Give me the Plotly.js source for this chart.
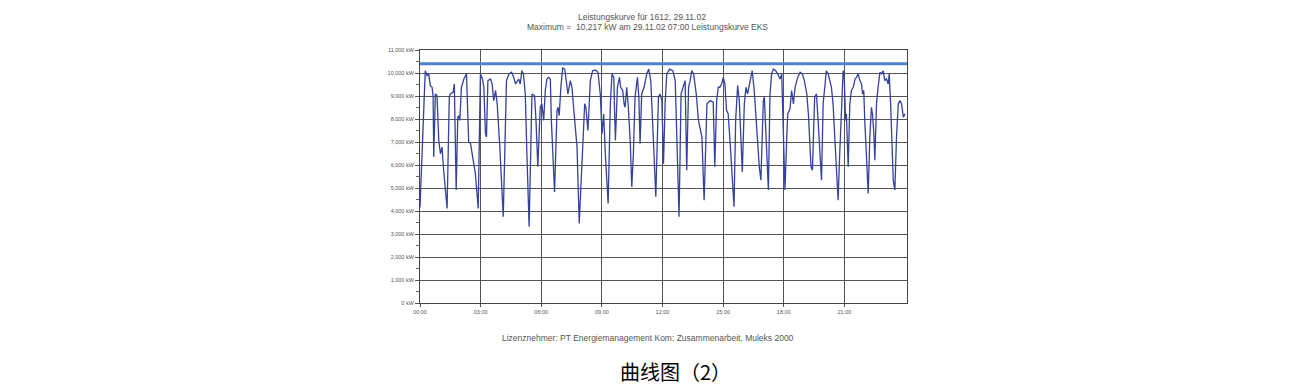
<!DOCTYPE html>
<html>
<head>
<meta charset="utf-8">
<script src="https://cdn.plot.ly/plotly-3.0.1.min.js"></script>
<style>
html,body{margin:0;padding:0;background:#fff;}
#chart{width:1300px;height:391px;}
</style>
</head>
<body>
<div id="chart"></div>
<script>
// Time of day in hours
var hours = [0,0.26,0.35,0.43,0.51,0.6,0.65,0.68,0.76,0.84,0.93,1.01,1.09,1.17,1.34,1.45,1.5,1.64,1.7,1.79,1.87,1.92,1.97,2.05,2.17,2.3,2.41,2.5,2.66,2.74,2.88,2.99,3.09,3.16,3.24,3.29,3.36,3.49,3.57,3.65,3.74,3.82,3.95,4.12,4.28,4.4,4.53,4.64,4.73,4.88,4.96,5.04,5.12,5.21,5.29,5.4,5.54,5.67,5.74,5.83,5.95,6.03,6.12,6.2,6.28,6.36,6.45,6.5,6.66,6.78,6.83,6.89,6.97,7.06,7.16,7.24,7.32,7.44,7.52,7.6,7.72,7.77,7.88,8.02,8.15,8.21,8.31,8.43,8.54,8.68,8.81,8.92,9.01,9.09,9.17,9.31,9.42,9.5,9.59,9.62,9.67,9.77,9.87,9.93,10.03,10.1,10.15,10.23,10.31,10.4,10.48,10.56,10.64,10.76,10.83,10.89,10.97,11.09,11.22,11.32,11.42,11.55,11.67,11.8,11.88,11.97,12.05,12.13,12.21,12.35,12.51,12.63,12.71,12.82,12.92,13.04,13.12,13.2,13.29,13.37,13.45,13.54,13.67,13.78,13.87,13.95,14.06,14.2,14.28,14.36,14.51,14.59,14.68,14.76,14.84,14.92,15.01,15.09,15.17,15.25,15.34,15.42,15.54,15.62,15.72,15.8,15.88,15.95,16.05,16.13,16.21,16.33,16.44,16.54,16.63,16.71,16.79,16.87,16.99,17.04,17.12,17.24,17.32,17.4,17.49,17.6,17.7,17.82,17.9,17.98,18.06,18.15,18.2,18.31,18.39,18.48,18.56,18.69,18.81,18.92,19.02,19.14,19.22,19.35,19.42,19.53,19.62,19.7,19.78,19.87,19.95,20.03,20.11,20.2,20.28,20.36,20.44,20.53,20.61,20.69,20.77,20.86,20.94,20.99,21.06,21.1,21.19,21.27,21.35,21.44,21.53,21.6,21.68,21.77,21.85,21.9,21.96,22.01,22.1,22.18,22.26,22.34,22.39,22.46,22.51,22.59,22.67,22.76,22.84,22.92,23.0,23.09,23.17,23.22,23.29,23.34,23.42,23.5,23.58,23.67,23.75,23.83,23.92,24.0];
// Load in kW
var loadKW = [4150,10100,9890,9960,9450,9380,8950,6350,9090,9020,7070,6490,6780,5770,4110,8950,9090,9160,9520,4910,8080,8150,7940,9380,9740,9960,7000,6930,6060,5630,4110,9960,9740,9380,7360,7220,9670,9740,9520,8800,9240,8660,6780,3750,9670,9960,10030,9810,9520,9740,9520,10100,9960,9090,6490,3320,9090,9020,7940,5920,8510,8660,7940,9240,9740,9810,9740,7940,4830,8370,8510,8150,9380,10217,10170,9670,9090,9670,9380,8510,7360,6780,3460,6490,8660,8510,7500,9670,10100,10130,10030,9090,7360,8230,6490,4330,8660,9960,9810,8660,7070,9380,9810,9380,9240,8660,8510,9380,8510,7070,5050,6490,8950,9810,8950,6930,9090,9380,9960,10170,9670,7070,4620,8950,9090,8800,6060,8660,9960,10170,10100,9670,7220,3750,9090,9520,9670,5770,9380,9670,10100,9960,9090,7940,7500,7220,4470,8660,8730,8800,8730,5920,8800,9380,9380,9520,9810,9520,8370,8230,7070,5770,4190,7940,9450,8800,7220,5700,8660,9380,9090,9670,10100,9240,7940,6930,5920,5340,8800,8950,7070,4910,9090,9960,10170,10100,9960,9740,9960,7220,4910,7220,8230,8440,9240,8660,9380,9810,10030,9960,9670,9090,8230,5920,5770,8950,9090,7940,6490,5340,8660,9380,10100,9960,9670,9380,8660,7220,5770,4470,6490,8660,10100,9960,7940,8230,5920,8660,9240,9380,9740,9810,9960,9670,9520,9090,9240,7940,6490,4760,7220,8510,8230,7360,6210,8660,9380,10030,9960,10100,9670,9740,9520,9960,8660,7220,5340,4910,7220,8660,8800,8660,8080,8230];
// Horizontal reference (limit) line
var limitKW = 10400;
var xTickVals = [0,3,6,9,12,15,18,21];
var xTickText = ["00:00","03:00","06:00","09:00","12:00","15:00","18:00","21:00"];
var yTickVals = [0,1000,2000,3000,4000,5000,6000,7000,8000,9000,10000,11000];
var yTickText = ["0 kW","1,000 kW","2,000 kW","3,000 kW","4,000 kW","5,000 kW","6,000 kW","7,000 kW","8,000 kW","9,000 kW","10,000 kW","11,000 kW"];
var titleLine1 = "Leistungskurve für 1612, 29.11.02";
var titleLine2 = "Maximum =  10,217 kW am 29.11.02 07:00 Leistungskurve EKS";
var footerText = "Lizenznehmer: PT Energiemanagement Kom: Zusammenarbeit, Muleks 2000";
var captionText = "曲线图（2）";

var traces = [
  {x:[0,24.1], y:[limitKW,limitKW], type:'scatter', mode:'lines',
   line:{color:'#4f82d2', width:3}, hoverinfo:'skip', showlegend:false},
  {x:hours, y:loadKW, type:'scatter', mode:'lines',
   line:{color:'#33429e', width:1.3}, showlegend:false}
];

var axisFont = {family:'Liberation Sans, Arial, sans-serif', size:5.5, color:'#555'};
var layout = {
  width:1300, height:391,
  paper_bgcolor:'#fff', plot_bgcolor:'#fff',
  margin:{l:420, r:393, t:50, b:88},
  showlegend:false,
  xaxis:{range:[0,24.1], tickvals:xTickVals, ticktext:xTickText,
    showgrid:true, gridcolor:'#555', gridwidth:1,
    showline:true, linecolor:'#444', linewidth:1, mirror:true,
    ticks:'outside', ticklen:3, tickcolor:'#555', tickfont:axisFont, zeroline:false, fixedrange:true},
  yaxis:{range:[0,11000], tickvals:yTickVals, ticktext:yTickText,
    showgrid:true, gridcolor:'#555', gridwidth:1,
    showline:true, linecolor:'#444', linewidth:1, mirror:true,
    ticks:'outside', ticklen:4, tickcolor:'#555', tickfont:axisFont, zeroline:false,
    minor:{dtick:500, ticks:'outside', ticklen:3, tickcolor:'#666', showgrid:false},
    fixedrange:true},
  annotations:[
    {xref:'paper', yref:'paper', x:0.455, y:1, yshift:33, text:titleLine1, showarrow:false,
     font:{family:'Liberation Sans, Arial, sans-serif', size:8.5, color:'#555'}, xanchor:'center', yanchor:'middle'},
    {xref:'paper', yref:'paper', x:0.468, y:1, yshift:23, text:titleLine2, showarrow:false,
     font:{family:'Liberation Sans, Arial, sans-serif', size:8.5, color:'#555'}, xanchor:'center', yanchor:'middle'},
    {xref:'paper', yref:'paper', x:0.468, y:0, yshift:-35, text:footerText, showarrow:false,
     font:{family:'Liberation Sans, Arial, sans-serif', size:8.5, color:'#555'}, xanchor:'center', yanchor:'middle'},
    {xref:'paper', yref:'paper', x:0.524, y:0, yshift:-68, text:captionText, showarrow:false,
     font:{family:'Noto Sans CJK SC, sans-serif', size:20, color:'#000'}, xanchor:'center', yanchor:'middle'}
  ]
};
Plotly.newPlot('chart', traces, layout, {displayModeBar:false, staticPlot:true});
</script>
</body>
</html>
